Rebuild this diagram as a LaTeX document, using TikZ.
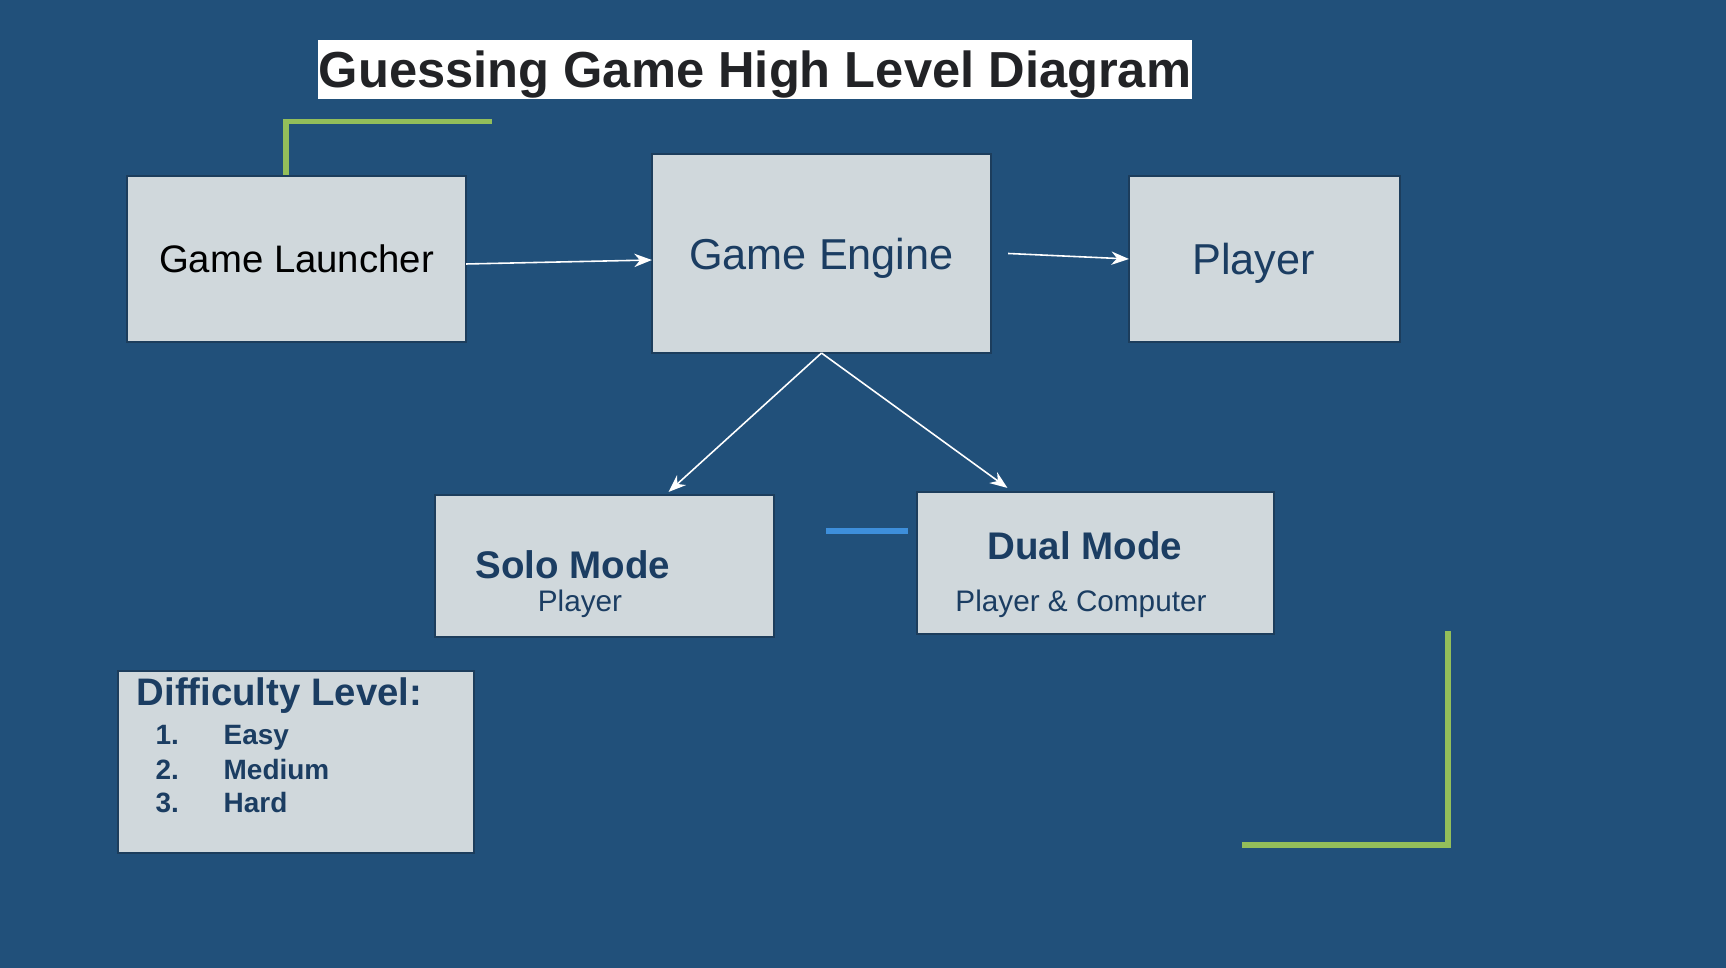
\documentclass[tikz,border=0pt]{standalone}
\usepackage{fontspec}
\setmainfont{Liberation Sans}
\usetikzlibrary{arrows.meta}
\definecolor{slidebg}{HTML}{21507A}
\definecolor{boxfill}{HTML}{D0D8DC}
\definecolor{boxline}{HTML}{1C3D5C}
\definecolor{navy}{HTML}{1B3D62}
\definecolor{titleink}{HTML}{222326}
\definecolor{accentgreen}{HTML}{93BE5A}
\definecolor{accentblue}{HTML}{3E8FDB}

\begin{document}
\begin{tikzpicture}[x=0.01cm, y=-0.01cm,
		box/.style={draw=boxline, fill=boxfill, line width=0.5pt, inner sep=0pt, outer sep=0pt},
		flow/.style={draw=white, line width=0.45pt, -{Stealth[length=5pt, width=3.8pt]}},
		headtext/.style={text=navy, inner sep=0pt, font=\bfseries\fontsize{10.95pt}{13pt}\selectfont},
		subtext/.style={text=navy, inner sep=0pt, font=\fontsize{8.45pt}{10pt}\selectfont},
		levelitem/.style={text=navy, inner sep=0pt, font=\bfseries\fontsize{7.95pt}{9.5pt}\selectfont}]
		% slide background
		\fill[slidebg] (0,0) rectangle (1726,968);
		\useasboundingbox (0,0) rectangle (1726,968);
		
		\node[fill=white, inner sep=0pt, minimum width=8.74cm, minimum height=0.59cm, text depth=0pt, text=titleink,
			font=\bfseries\fontsize{14.4pt}{17pt}\selectfont] (title) at (755,69.5) {Guessing Game High Level Diagram};
		
		% decorative corners
		\draw[accentgreen, line width=1.45pt] (286,175) -- (286,121.5) -- (492,121.5);
		\draw[accentgreen, line width=1.45pt] (1448,631) -- (1448,845) -- (1242,845);
		\draw[accentblue, line width=1.8pt] (826,531) -- (908,531);
		
		\node[box, minimum width=3.39cm, minimum height=1.66cm, text depth=0pt,
			font=\fontsize{10.9pt}{13pt}\selectfont] (launcher) at (296.5,259) {Game Launcher};
		\node[box, minimum width=3.39cm, minimum height=1.99cm, text depth=0pt, text=navy,
			font=\fontsize{12.3pt}{15pt}\selectfont] (engine) at (821.5,253.5) {Game Engine};
		\node[box, minimum width=2.71cm, minimum height=1.66cm, text depth=0pt, text=navy,
			font=\fontsize{12.3pt}{15pt}\selectfont] (player) at (1264.5,259) {Player\kern0.22cm};
		\node[box, minimum width=3.39cm, minimum height=1.42cm] (solo) at (604.5,566) {};
		\node[box, minimum width=3.57cm, minimum height=1.42cm] (dual) at (1095.5,563) {};
		\node[box, minimum width=3.56cm, minimum height=1.82cm] (levels) at (296,762) {};
		
		\node[headtext, anchor=base] (soloname) at (573,579) {Solo Mode};
		\node[subtext, anchor=base] (soloplayer) at (580,612) {Player};
		\node[headtext, anchor=base] (dualname) at (1085,560) {Dual Mode};
		\node[subtext, anchor=base] (dualplayers) at (1081,612) {Player \& Computer};
		
		\node[headtext, anchor=base west, font=\bfseries\fontsize{10.9pt}{13pt}\selectfont] (leveltitle) at (136,706) {Difficulty Level:};
		\foreach \n/\word/\y in {1/Easy/745, 2/Medium/780, 3/Hard/813} {
			\node[levelitem, anchor=base west] (num\n) at (155,\y) {\n.};
			\node[levelitem, anchor=base west] (item\n) at (223,\y) {\word};
		}
		
		\draw[flow] ([yshift=-0.05cm]launcher.east) -- ([yshift=-0.065cm]engine.west);
		\draw[flow] ([xshift=0.17cm]engine.east) -- (player.west);
		\draw[flow] (engine.south) -- ([xshift=0.64cm, yshift=0.03cm]solo.north);
		\draw[flow] (engine.south) -- ([xshift=-0.88cm, yshift=0.04cm]dual.north);
	\end{tikzpicture}
\end{document}
